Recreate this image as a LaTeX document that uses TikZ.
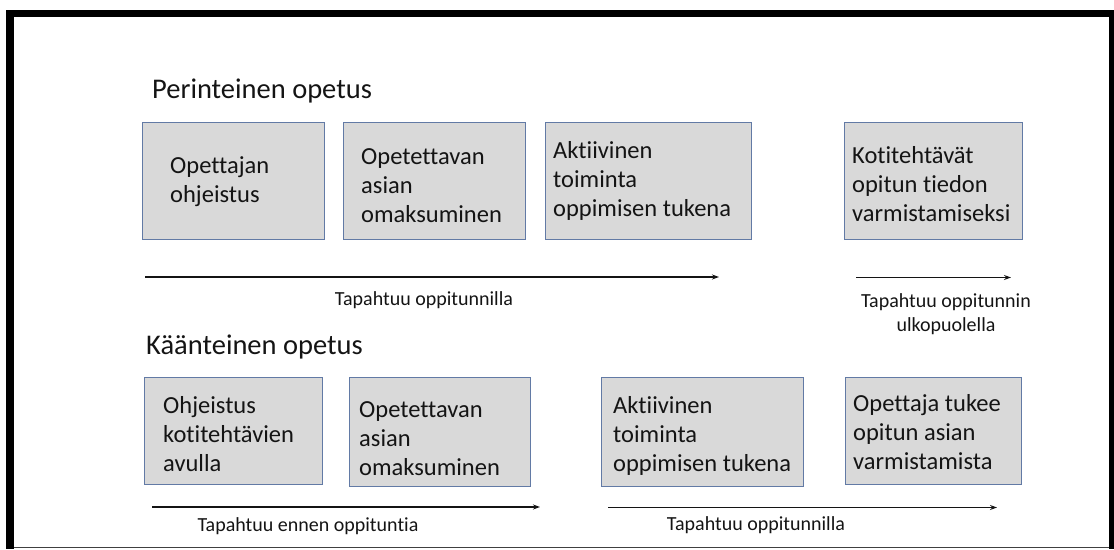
\documentclass[tikz,border=0pt]{standalone}
\usepackage{fontspec}
\setmainfont{Carlito}[Ligatures=NoCommon]
\usetikzlibrary{arrows.meta,calc}
\definecolor{cardfill}{RGB}{217,217,217}
\definecolor{cardedge}{RGB}{98,122,165}
\definecolor{inkc}{RGB}{20,20,20}
\definecolor{rulegray}{RGB}{64,64,64}
\begin{document}
\begin{tikzpicture}[x=1pt,y=-1pt,
  card/.style={draw=cardedge, fill=cardfill, line width=1pt, inner sep=0pt, anchor=north west},
  % multi-line texts are placed by the baseline of their last line
  cardtext/.style={anchor=base west, inner sep=0pt, align=left, font=\fontsize{24.5}{29}\selectfont, text=inkc},
  heading/.style={anchor=base west, inner sep=0pt, font=\fontsize{28.5}{34}\selectfont, text=inkc},
  timeline/.style={draw=inkc, line width=1.2pt, -{Stealth[length=7pt,width=5pt]}},
  note/.style={anchor=base, inner sep=0pt, align=center, font=\fontsize{20}{24}\selectfont, text=inkc},
]
\useasboundingbox (0,0) rectangle (1114,549);
% page frame
\fill[black] (6,10) rectangle (1114,17);
\fill[black] (6,10) rectangle (14,549);
\fill[black] (1109,10) rectangle (1114,549);
\draw[rulegray, line width=1.5pt] (14,547.5) -- (1109,547.5);

% traditional teaching
\node[heading] (h1) at (152,98) {Perinteinen opetus};
\node[card, minimum width=182pt, minimum height=117pt] (p1) at (142,122) {};
\node[card, minimum width=182pt, minimum height=117pt] (p2) at (343,122) {};
\node[card, minimum width=206pt, minimum height=117pt] (p3) at (545,122) {};
\node[card, minimum width=178pt, minimum height=117pt] (p4) at (844,122) {};
\node[cardtext] (p1t) at (170,202) {Opettajan\\ohjeistus};
\node[cardtext] (p2t) at (361,222) {Opetettavan\\asian\\omaksuminen};
\node[cardtext] (p3t) at (553,216) {Aktiivinen\\toiminta\\oppimisen tukena};
\node[cardtext] (p4t) at (852,221) {Kotitehtävät\\opitun tiedon\\varmistamiseksi};

\coordinate (a1s) at (145,277);
\coordinate (a1e) at (719,277);
\coordinate (a2s) at (856,277.5);
\coordinate (a2e) at (1011,277.5);
\draw[timeline] (a1s) -- (a1e);
\draw[timeline] (a2s) -- (a2e);
\node[note] (n1) at (424,305) {Tapahtuu oppitunnilla};
\node[note] (n2) at (946,331) {Tapahtuu oppitunnin\\ulkopuolella};

% flipped teaching
\node[heading] (h2) at (146,354) {Käänteinen opetus};
\node[card, minimum width=178pt, minimum height=107pt] (f1) at (144,377) {};
\node[card, minimum width=181pt, minimum height=109pt] (f2) at (349,377) {};
\node[card, minimum width=202pt, minimum height=109pt] (f3) at (601,377) {};
\node[card, minimum width=176pt, minimum height=107pt] (f4) at (845,377) {};
\node[cardtext] (f1t) at (163,471) {Ohjeistus\\kotitehtävien\\avulla};
\node[cardtext] (f2t) at (359,475) {Opetettavan\\asian\\omaksuminen};
\node[cardtext] (f3t) at (613,471) {Aktiivinen\\toiminta\\oppimisen tukena};
\node[cardtext] (f4t) at (853,469) {Opettaja tukee\\opitun asian\\varmistamista};

\coordinate (b1s) at (152,507);
\coordinate (b1e) at (540,507);
\coordinate (b2s) at (608,507.5);
\coordinate (b2e) at (997,507.5);
\draw[timeline] (b1s) -- (b1e);
\draw[timeline] (b2s) -- (b2e);
\node[note] (n3) at (308,531) {Tapahtuu ennen oppituntia};
\node[note] (n4) at (756,530.5) {Tapahtuu oppitunnilla};
\end{tikzpicture}
\end{document}
